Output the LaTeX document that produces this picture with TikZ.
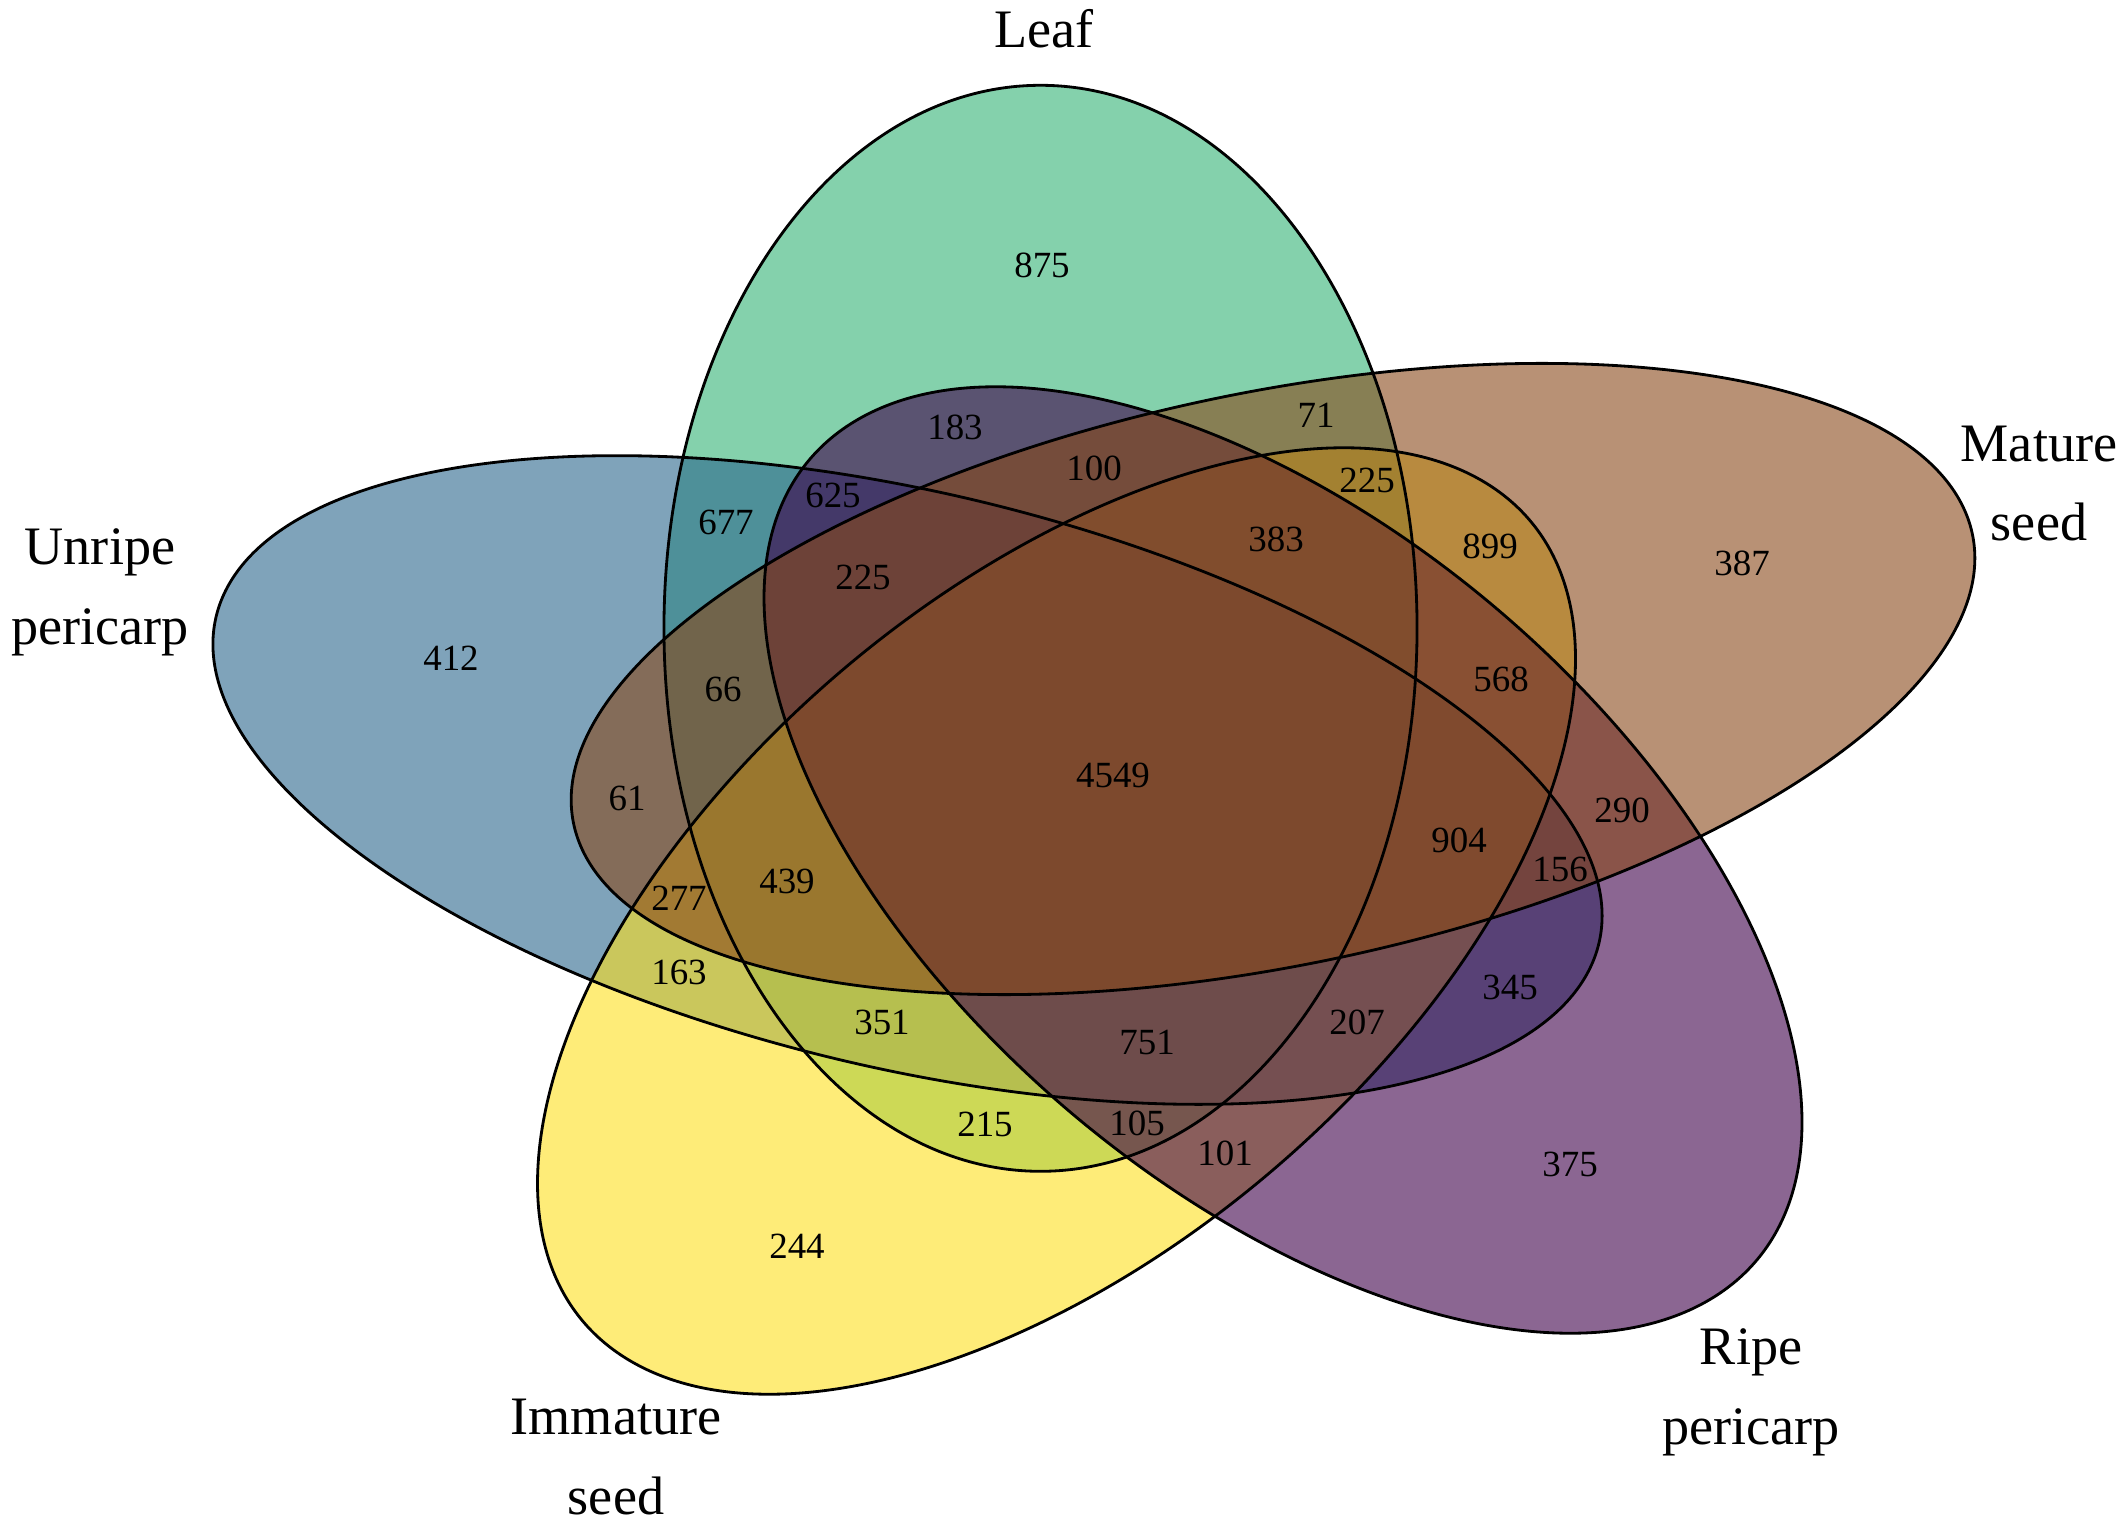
\documentclass[tikz,border=0pt]{standalone}
\usepackage{fontspec}
\setmainfont{Liberation Serif}
\definecolor{leafc}{RGB}{50,178,117}
\definecolor{unripec}{RGB}{42,102,140}
\definecolor{immc}{RGB}{253,223,30}
\definecolor{ripec}{RGB}{62,0,74}
\definecolor{maturec}{RGB}{137,72,25}
\begin{document}
\begin{tikzpicture}[x=0.01cm,y=-0.01cm,
  num/.style={font=\fontsize{10.5}{12}\selectfont, inner sep=0pt},
  lab/.style={font=\fontsize{15.4}{22.7}\selectfont, align=center, inner sep=0pt, anchor=north},
  outline/.style={draw=black, line width=0.8pt},
  setfill/.style={fill=#1, fill opacity=0.6},
  ell/.style args={#1,#2,#3}{shift={(#1,#2)}, xscale=1.34, yscale=-1, rotate=#3}]
\useasboundingbox (0,0) rectangle (2128,1525);
\def\ra{281}\def\rb{543}
% fills, in drawing order
\path[setfill=leafc, ell={1040.5,628.3,-90}] (0,0) ellipse [x radius=\rb, y radius=\ra];
\path[setfill=unripec, ell={907.5,780,-159.6}] (0,0) ellipse [x radius=\rb, y radius=\ra];
\path[setfill=immc, ell={1056.5,921,-235}] (0,0) ellipse [x radius=\rb, y radius=\ra];
\path[setfill=ripec, ell={1283,860,-305}] (0,0) ellipse [x radius=\rb, y radius=\ra];
\path[setfill=maturec, ell={1273,679,-18}] (0,0) ellipse [x radius=\rb, y radius=\ra];
% outlines
\path[outline, ell={1040.5,628.3,-90}] (0,0) ellipse [x radius=\rb, y radius=\ra];
\path[outline, ell={907.5,780,-159.6}] (0,0) ellipse [x radius=\rb, y radius=\ra];
\path[outline, ell={1056.5,921,-235}] (0,0) ellipse [x radius=\rb, y radius=\ra];
\path[outline, ell={1283,860,-305}] (0,0) ellipse [x radius=\rb, y radius=\ra];
\path[outline, ell={1273,679,-18}] (0,0) ellipse [x radius=\rb, y radius=\ra];
% set labels
\node[lab] (lleaf) at (1044,9) {Leaf};
\node[lab] (lmature) at (2039,425) {Mature\\seed};
\node[lab] (lunripe) at (100,528) {Unripe\\pericarp};
\node[lab] (limm) at (616,1398) {Immature\\seed};
\node[lab] (lripe) at (1751,1328) {Ripe\\pericarp};
% counts
\node[num] (n875) at (1042,265) {875};
\node[num] (n71) at (1316,415) {71};
\node[num] (n183) at (955,427) {183};
\node[num] (n100) at (1094,468) {100};
\node[num] (n225a) at (1367,480) {225};
\node[num] (n625) at (833,495) {625};
\node[num] (n677) at (726,522) {677};
\node[num] (n383) at (1276,539) {383};
\node[num] (n899) at (1490,546) {899};
\node[num] (n387) at (1742,563) {387};
\node[num] (n225b) at (863,577) {225};
\node[num] (n412) at (451,658) {412};
\node[num] (n66) at (723,689) {66};
\node[num] (n568) at (1501,679) {568};
\node[num] (n4549) at (1113,775) {4549};
\node[num] (n61) at (627,798) {61};
\node[num] (n290) at (1622,810) {290};
\node[num] (n904) at (1459,840) {904};
\node[num] (n156) at (1560,869) {156};
\node[num] (n439) at (787,881) {439};
\node[num] (n277) at (679,898) {277};
\node[num] (n163) at (679,972) {163};
\node[num] (n345) at (1510,987) {345};
\node[num] (n351) at (882,1022) {351};
\node[num] (n751) at (1147,1042) {751};
\node[num] (n207) at (1357,1022) {207};
\node[num] (n215) at (985,1124) {215};
\node[num] (n105) at (1137,1123) {105};
\node[num] (n101) at (1225,1153) {101};
\node[num] (n375) at (1570,1164) {375};
\node[num] (n244) at (797,1246) {244};
\end{tikzpicture}
\end{document}
